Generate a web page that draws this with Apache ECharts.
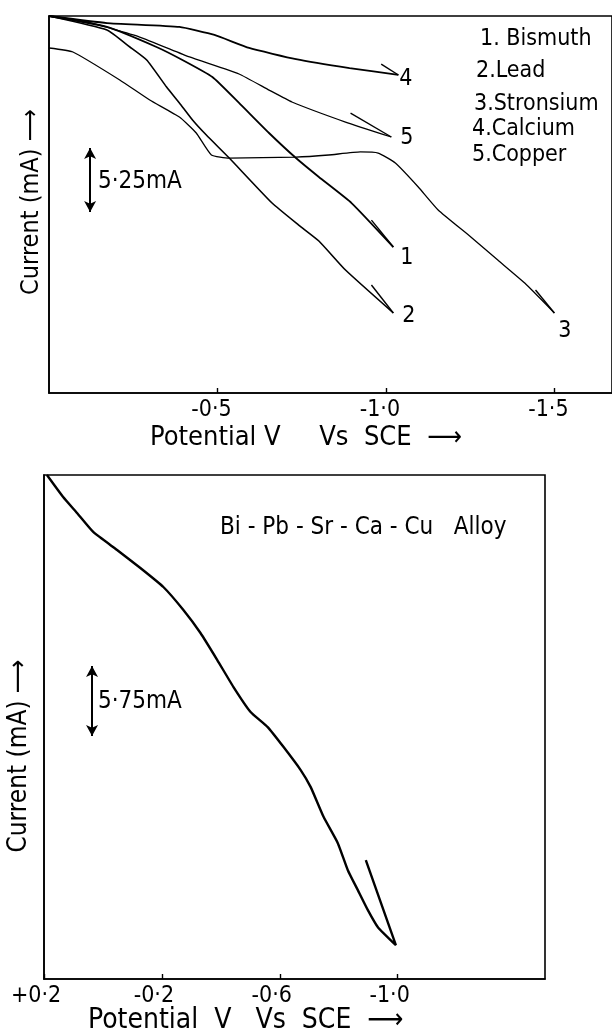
<!DOCTYPE html>
<html>
<head>
<meta charset="utf-8">
<script src="https://cdn.jsdelivr.net/npm/echarts@6/dist/echarts.min.js"></script>
<style>
html, body { margin: 0; padding: 0; background: #fff; }
#chart { width: 612px; height: 1034px; }
</style>
</head>
<body>
<div id="chart"></div>
<script>
// upper plot: potential (V vs SCE) against current (mA, counted down from the start)
const bismuth = [[0, 0], [-0.172, -0.9], [-0.319, -2.55], [-0.396, -3.62], [-0.485, -5.02], [-0.564, -7.15],
  [-0.653, -9.62], [-0.733, -11.68], [-0.801, -13.24], [-0.898, -15.38], [-1.022, -19.0]]
const lead = [[0, 0], [-0.172, -1.15], [-0.24, -2.55], [-0.29, -3.62], [-0.349, -5.84], [-0.387, -7.15],
  [-0.426, -8.55], [-0.467, -9.79], [-0.535, -11.68], [-0.662, -15.38], [-0.741, -17.19], [-0.801, -18.5],
  [-0.88, -20.89], [-1.022, -24.42]]
const strontium = [[0, -2.63], [-0.071, -2.96], [-0.21, -5.26], [-0.299, -6.91], [-0.387, -8.31], [-0.437, -9.62],
  [-0.482, -11.43], [-0.535, -11.68], [-0.733, -11.6], [-0.83, -11.43], [-0.924, -11.18], [-0.977, -11.27],
  [-1.028, -12.09], [-1.096, -14.06], [-1.155, -15.95], [-1.252, -18.17], [-1.332, -20.07], [-1.412, -21.96],
  [-1.5, -24.42]]
const calcium = [[0, 0], [-0.172, -0.58], [-0.387, -0.9], [-0.491, -1.56], [-0.594, -2.63], [-0.733, -3.54],
  [-0.892, -4.28], [-1.037, -4.85]]
const copper = [[0, 0], [-0.113, -0.49], [-0.269, -1.73], [-0.417, -3.37], [-0.564, -4.77], [-0.653, -6.09],
  [-0.721, -7.07], [-0.88, -8.72], [-1.016, -9.95]]
// start of the little arrow stroke drawn at the end of each curve
const arrowTails = { '1': [-0.957, -16.78], '2': [-0.957, -22.12], '3': [-1.444, -22.53], '4': [-0.986, -3.95], '5': [-0.895, -7.98] }
const legendNames = ['1. Bismuth', '2.Lead', '3.Stronsium', '4.Calcium', '5.Copper']
const topTicks = [-0.5, -1.0, -1.5]
const topScale = 5.25

// lower plot: the alloy, sweep out and back
const alloy = [[0.19, 0], [0.135, -1.81], [0.088, -3.12], [0.033, -4.68], [-0.048, -6.16], [-0.127, -7.64],
  [-0.205, -9.2], [-0.273, -11.09], [-0.331, -12.98], [-0.388, -15.2], [-0.443, -17.42], [-0.501, -19.47],
  [-0.559, -20.71], [-0.613, -22.35], [-0.671, -24.24], [-0.705, -25.64], [-0.749, -28.1], [-0.797, -30.24],
  [-0.831, -32.46], [-0.865, -34.1], [-0.899, -35.74], [-0.933, -37.14], [-0.994, -38.62], [-0.892, -31.64]]
const bottomTicks = [0.2, -0.2, -0.6, -1.0]
const bottomScale = 5.75

const FONT = "'DejaVu Sans Condensed', 'Liberation Sans Narrow', 'DejaVu Sans', sans-serif"

const fmt = v => {
  const s = Math.abs(v).toFixed(1).replace('.', '·')
  return (v > 0 ? '+' : '-') + s
}

const axisBase = (gridIndex, min, max, ticks, pad) => ({
  type: 'value', gridIndex, min, max, inverse: true,
  splitLine: { show: false },
  axisLine: { show: true, onZero: false, lineStyle: { color: '#000', width: 1.6 } },
  axisTick: { show: true, inside: true, length: 5, customValues: ticks, lineStyle: { color: '#000', width: 1.4 } },
  axisLabel: { show: true, customValues: ticks, formatter: fmt, color: '#000', fontFamily: FONT, fontSize: 23, margin: 6, padding: [0, pad, 0, 0] }
})

const yBase = (gridIndex, min) => ({
  type: 'value', gridIndex, min, max: 0,
  splitLine: { show: false },
  axisLine: { show: true, onZero: false, lineStyle: { color: '#000', width: 1.6 } },
  axisTick: { show: false }, axisLabel: { show: false }
})

const curve = (name, data, width, labelOffset) => ({
  type: 'line', name, data, xAxisIndex: 0, yAxisIndex: 0,
  showSymbol: false, smooth: 0.15, silent: true,
  lineStyle: { color: '#000', width },
  endLabel: { show: true, formatter: name, color: '#000', fontFamily: FONT, fontSize: 23, offset: labelOffset, distance: 4 }
})

const arrowStroke = (name, data) => ({
  type: 'line', data: [arrowTails[name], data[data.length - 1]], xAxisIndex: 0, yAxisIndex: 0,
  showSymbol: false, silent: true, lineStyle: { color: '#000', width: 1.4 }
})

const scaleBar = (x, top, len) => ({
  silent: true, symbol: ['arrow', 'arrow'], symbolSize: [9, 11],
  lineStyle: { color: '#000', width: 2, type: 'solid' }, label: { show: false },
  data: [[{ coord: [x, top] }, { coord: [x, top - len] }]]
})

const txt = (x, y, text, size) => ({
  type: 'text', x, y, silent: true,
  style: { text, fill: '#000', font: size + 'px ' + FONT, align: 'left', verticalAlign: 'middle' }
})

const vtxt = (x, y, text, size) => ({
  type: 'text', x, y, silent: true, rotation: Math.PI / 2,
  style: { text, fill: '#000', font: size + 'px ' + FONT, align: 'center', verticalAlign: 'middle' }
})

const topSeries = [
  curve('1', bismuth, 1.8, [24, 11]),
  curve('2', lead, 1.6, [26, 3]),
  curve('3', strontium, 1.3, [21, 18]),
  curve('4', calcium, 1.8, [18, 4]),
  curve('5', copper, 1.3, [26, 1])
]
topSeries[0].markLine = scaleBar(-0.122, -10.86, topScale)

const option = {
  backgroundColor: '#fff',
  animation: false,
  grid: [
    { left: 49, right: -3, top: 16, bottom: 641, show: true, borderColor: '#000', borderWidth: 1.6 },
    { left: 44, right: 67, top: 475, bottom: 55, show: true, borderColor: '#000', borderWidth: 1.6 }
  ],
  xAxis: [axisBase(0, -1.671, 0, topTicks, 12), axisBase(1, -1.5, 0.2, bottomTicks, 16)],
  yAxis: [yBase(0, -31), yBase(1, -41.4)],
  series: [
    ...topSeries,
    arrowStroke('1', bismuth), arrowStroke('2', lead), arrowStroke('3', strontium),
    arrowStroke('4', calcium), arrowStroke('5', copper),
    {
      type: 'line', data: alloy, xAxisIndex: 1, yAxisIndex: 1, showSymbol: false, smooth: 0.15, silent: true,
      lineStyle: { color: '#000', width: 2.4 },
      markLine: scaleBar(0.037, -15.69, bottomScale)
    }
  ],
  graphic: [
    txt(480, 39, legendNames[0], 23), txt(476, 71, legendNames[1], 23), txt(474, 104, legendNames[2], 23),
    txt(472, 129, legendNames[3], 23), txt(472, 155, legendNames[4], 23),
    txt(98, 182, '5·25mA', 24),
    txt(150, 438, 'Potential V     Vs  SCE  ⟶', 27),
    vtxt(31, 202, 'Current (mA) ⟶', 25),
    txt(220, 528, 'Bi - Pb - Sr - Ca - Cu   Alloy', 24),
    txt(98, 702, '5·75mA', 24),
    txt(88, 1021, 'Potential  V   Vs  SCE  ⟶', 28),
    vtxt(19, 756, 'Current (mA) ⟶', 26)
  ]
}

echarts.init(document.getElementById('chart')).setOption(option)
</script>
</body>
</html>
